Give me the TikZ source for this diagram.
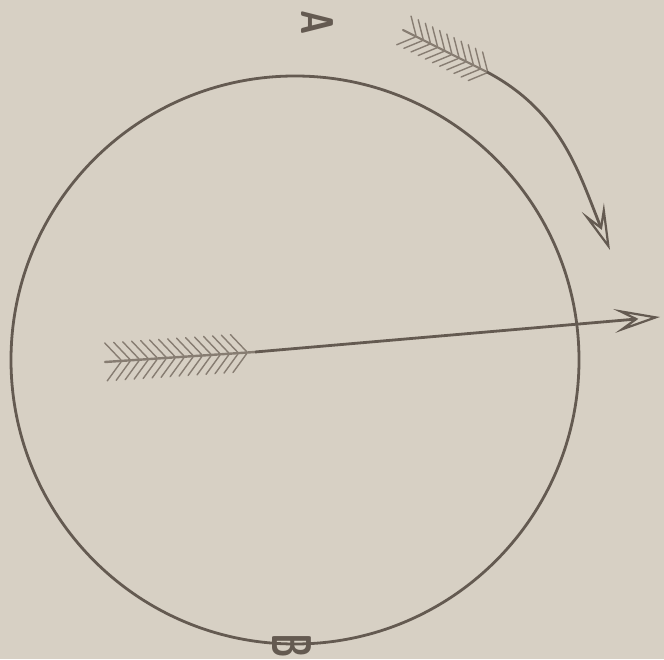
\documentclass[tikz,border=0pt]{standalone}
\usepackage{tikz}
\usetikzlibrary{arrows.meta}
\definecolor{paper}{RGB}{215,208,196}
\definecolor{ink}{RGB}{100,90,81}
\definecolor{quill}{RGB}{135,125,114}
\tikzset{
  line/.style={draw=ink,line width=2.8pt},
  feather/.style={draw=quill,line width=1.4pt,line cap=round},
  barb/.style={-{Stealth[open,length=46pt,width=24pt,inset=20pt,line width=2.2pt]}},
  letter/.style={text=ink,inner sep=0pt,font=\sffamily\bfseries,rotate=-90}
}
\begin{document}
\begin{tikzpicture}[x=1pt,y=1pt]
  \fill[paper] (0,0) rectangle (664,659);
  \useasboundingbox (0,0) rectangle (664,659);
  % ---------------- points
  \coordinate (O) at (295,299);
  \coordinate (tail) at (105,297);
  \coordinate (nock) at (255,307);
  \coordinate (tip) at (660,342);
  \coordinate (arcTail) at (403,629);
  \coordinate (arcNock) at (487,587);
  \coordinate (arcTip) at (610,409);
  % ---------------- circle and labels
  \draw[line] (O) circle (284);
  \node[letter] (A) at (317,636) {\fontsize{46}{46}\selectfont\scalebox{0.72}[1]{A}};
  \node[letter] (B) at (292,13) {\fontsize{56}{56}\selectfont\scalebox{0.6}[1]{B}};
  % ---------------- straight arrow
  \draw[feather,line width=2.4pt] (tail) -- (nock);
  \begin{scope}[shift={(tail)},rotate=3.8]
    \foreach \x in {16,25,...,150} {
      \draw[feather] (\x-15,19) -- (\x,1);
      \draw[feather] (\x-15,-19) -- (\x,-1);
    }
  \end{scope}
  \draw[line,barb] (nock) -- (tip);
  % ---------------- curved arrow
  \draw[feather,line width=2.2pt] (arcTail) -- (arcNock);
  \begin{scope}[shift={(arcTail)},rotate=-26.6]
    \foreach \x in {14,22,...,94} {
      \draw[feather] (\x-13,16) -- (\x,1);
      \draw[feather] (\x-13,-16) -- (\x,-1);
    }
  \end{scope}
  \draw[line,barb] (arcNock) to[out=-28,in=112] (arcTip);
\end{tikzpicture}
\end{document}
